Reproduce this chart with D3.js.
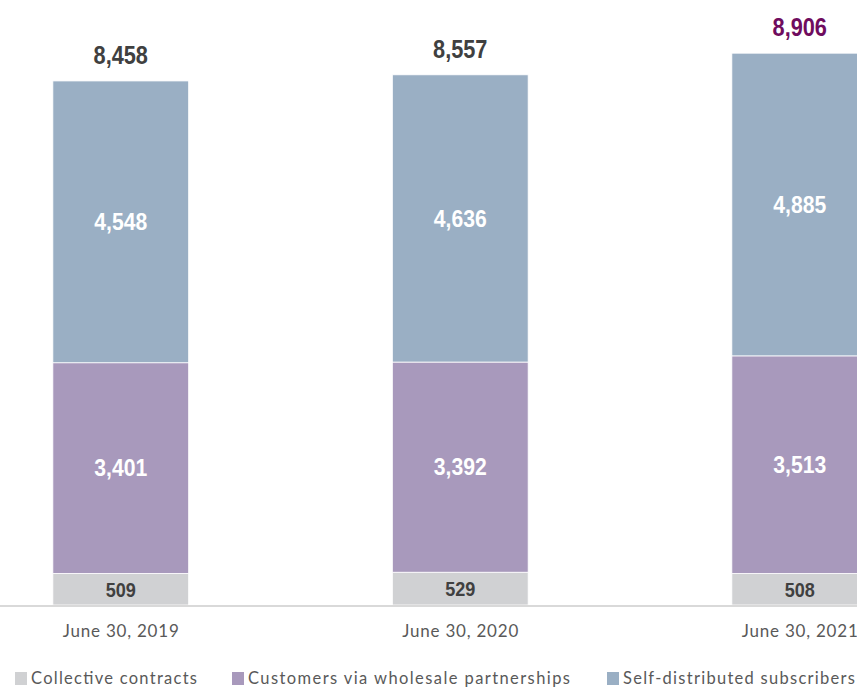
<!DOCTYPE html>
<html>
<head>
<meta charset="utf-8">
<script src="https://cdn.jsdelivr.net/npm/d3@7"></script>
<style>
  html, body { margin: 0; padding: 0; background: #ffffff; }
  svg { display: block; }
</style>
</head>
<body>
<svg id="chart" width="857" height="688"></svg>
<script>
const categories = ["June 30, 2019", "June 30, 2020", "June 30, 2021"];
const seriesNames = ["Collective contracts", "Customers via wholesale partnerships", "Self-distributed subscribers"];
const collective = [509, 529, 508];
const wholesale = [3401, 3392, 3513];
const selfDistributed = [4548, 4636, 4885];
const totals = [8458, 8557, 8906];

const colors = ["#d0d1d3", "#a899bc", "#9aafc4"];
const labelColors = ["#404040", "#ffffff", "#ffffff"];
const totalColors = ["#404040", "#404040", "#6f0c5e"];

const svg = d3.select("#chart");
const W = 857, H = 688;
const numFont = "'Liberation Sans', Arial, sans-serif";
const body = "Lato, 'Noto Sans', 'Liberation Sans', sans-serif";

const data = categories.map((c, i) => ({
  cat: c,
  "Collective contracts": collective[i],
  "Customers via wholesale partnerships": wholesale[i],
  "Self-distributed subscribers": selfDistributed[i],
  total: totals[i]
}));

const stack = d3.stack().keys(seriesNames)(data);

const x = d3.scaleBand()
  .domain(categories)
  .range([-49, 969.5])
  .paddingInner(0.6)
  .paddingOuter(0.3);

const baseY = 605;
const y = d3.scaleLinear().domain([0, 9000]).range([baseY, baseY - 9000 * 0.06196]);

// condense bold numbers (narrow face look)
function condense(sel, factor) {
  sel.each(function () {
    const w = this.getComputedTextLength();
    d3.select(this).attr("textLength", w * factor).attr("lengthAdjust", "spacingAndGlyphs");
  });
}

// bars
const layers = svg.append("g").selectAll("g")
  .data(stack).join("g")
  .attr("fill", (d, i) => colors[i]);

layers.selectAll("rect")
  .data(d => d).join("rect")
  .attr("x", d => x(d.data.cat))
  .attr("y", d => y(d[1]))
  .attr("width", x.bandwidth())
  .attr("height", d => y(d[0]) - y(d[1]))
  .attr("stroke", "#ffffff")
  .attr("stroke-width", 0.8);

// segment labels
stack.forEach((layer, li) => {
  const t = svg.append("g").selectAll("text")
    .data(layer).join("text")
    .attr("x", d => x(d.data.cat) + x.bandwidth() / 2)
    .attr("y", d => (y(d[0]) + y(d[1])) / 2)
    .attr("dy", "0.36em")
    .attr("text-anchor", "middle")
    .attr("font-family", numFont)
    .attr("font-weight", "bold")
    .attr("font-size", li === 0 ? 21 : 23)
    .attr("fill", labelColors[li])
    .text(d => d3.format(",")(d[1] - d[0]));
  condense(t, li === 0 ? 0.86 : 0.92);
});

// totals
const tt = svg.append("g").selectAll("text")
  .data(data).join("text")
  .attr("x", d => x(d.cat) + x.bandwidth() / 2)
  .attr("y", d => y(d.total) - 17)
  .attr("text-anchor", "middle")
  .attr("font-family", numFont)
  .attr("font-weight", "bold")
  .attr("font-size", 26.5)
  .attr("fill", (d, i) => totalColors[i])
  .text(d => d3.format(",")(d.total));
condense(tt, 0.82);

// x axis
const xAxis = svg.append("g")
  .attr("transform", `translate(0,${baseY + 1})`)
  .call(d3.axisBottom(x).tickSize(0).tickPadding(0));
xAxis.select(".domain").remove();
xAxis.append("line")
  .attr("x1", 0).attr("x2", W)
  .attr("stroke", "#d9d9d9").attr("stroke-width", 2);
xAxis.selectAll(".tick text")
  .attr("y", 31)
  .attr("dy", 0)
  .attr("font-family", body)
  .attr("font-size", 17)
  .attr("fill", "#595959")
  .attr("textLength", 116)
  .attr("lengthAdjust", "spacing");

// legend
const legendX = [15, 232, 607];
const legendTextW = [166, 322, 232];
const legend = svg.append("g").selectAll("g")
  .data(seriesNames).join("g")
  .attr("transform", (d, i) => `translate(${legendX[i]},672)`);
legend.append("rect")
  .attr("width", 12).attr("height", 13)
  .attr("fill", (d, i) => colors[i]);
legend.append("text")
  .attr("x", 16)
  .attr("y", 12)
  .attr("font-family", body)
  .attr("font-size", 16.5)
  .attr("fill", "#595959")
  .attr("textLength", (d, i) => legendTextW[i])
  .attr("lengthAdjust", "spacing")
  .text(d => d);
</script>
</body>
</html>
